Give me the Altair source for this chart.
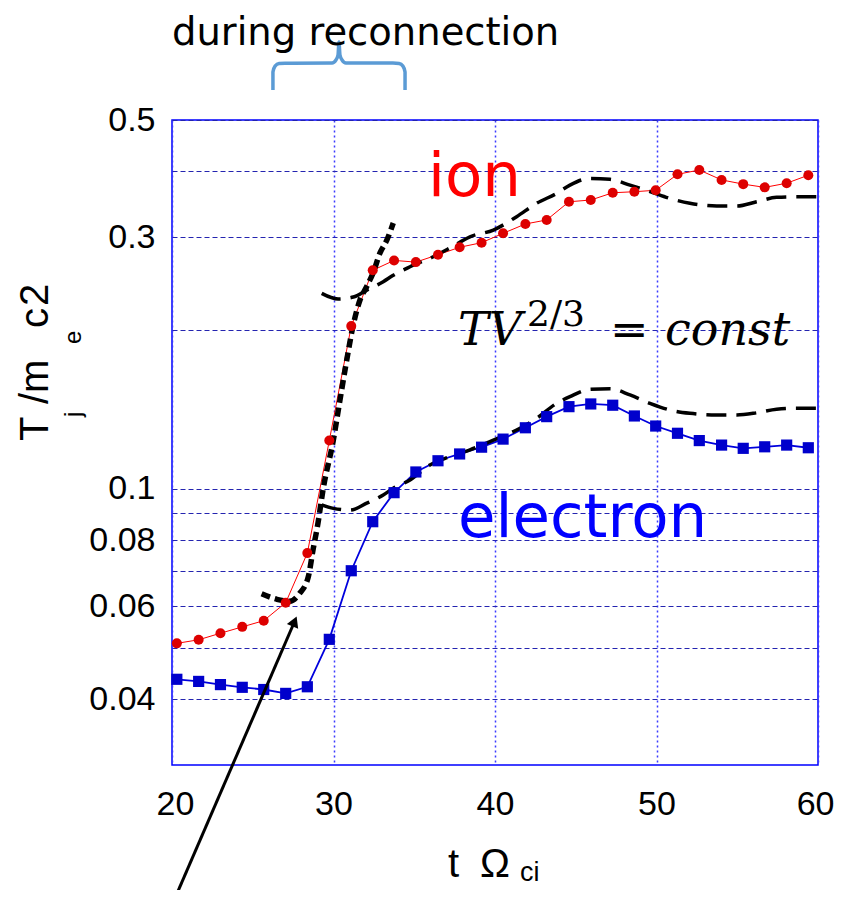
import altair as alt
import pandas as pd

# ---------------- data ----------------
t_obs = [20.3, 21.65, 23.0, 24.35, 25.68, 27.04, 28.38, 29.74, 31.1, 32.43,
         33.75, 35.1, 36.47, 37.81, 39.17, 40.5, 41.88, 43.2, 44.58, 45.93,
         47.29, 48.63, 49.95, 51.3, 52.65, 54.03, 55.37, 56.7, 58.06, 59.4]
T_ion = [0.0510, 0.0518, 0.0533, 0.0548, 0.0563, 0.0609, 0.0756, 0.1235, 0.2035, 0.2596,
         0.271, 0.269, 0.2778, 0.287, 0.2928, 0.305, 0.3177, 0.3233, 0.350, 0.3527,
         0.364, 0.3657, 0.368, 0.3945, 0.402, 0.385, 0.378, 0.3727, 0.3795, 0.393]
T_ele = [0.0436, 0.0432, 0.0426, 0.0421, 0.0417, 0.0410, 0.0422, 0.0519, 0.070, 0.0867,
         0.0984, 0.1077, 0.1131, 0.1165, 0.120, 0.1243, 0.1306, 0.1371, 0.1432, 0.1449,
         0.1441, 0.1375, 0.1316, 0.1275, 0.1235, 0.1211, 0.1194, 0.1202, 0.1211, 0.1197]

# adiabatic (TV^{2/3}=const) estimates
t_ad_ion1 = [25.55, 26.5, 27.3, 27.9, 28.44, 28.73, 29.04, 29.35, 29.99, 30.4,
             30.82, 31.2, 31.64, 32.05, 32.45, 32.88, 33.3, 33.7]
T_ad_ion1 = [0.0633, 0.0618, 0.0613, 0.0634, 0.0682, 0.0766, 0.0862, 0.0996, 0.1238, 0.1474,
             0.1755, 0.203, 0.228, 0.2416, 0.2565, 0.28, 0.296, 0.319]

t_ad_ion2 = [29.27, 30.28, 31.23, 32.06, 33.08, 33.7, 34.74, 36.18, 37.2, 38.45,
             39.9, 41.34, 42.58, 43.82, 44.64, 45.88, 47.12, 48.36, 49.6, 50.84,
             52.07, 53.73, 54.97, 56.2, 57.44, 58.68, 59.9]
T_ad_ion2 = [0.2347, 0.229, 0.231, 0.238, 0.247, 0.254, 0.2636, 0.2754, 0.286, 0.3004,
             0.3094, 0.328, 0.3477, 0.363, 0.3764, 0.3875, 0.386, 0.3764, 0.366, 0.355,
             0.3477, 0.3436, 0.3436, 0.350, 0.3568, 0.3577, 0.3577]

t_ad_ele = [29.27, 29.99, 31.02, 32.06, 33.08, 33.7, 34.74, 35.97, 37.2, 38.45,
            39.9, 41.34, 42.58, 43.82, 44.64, 45.88, 47.12, 48.36, 49.6, 50.84,
            52.07, 53.73, 54.97, 56.2, 57.44, 58.68, 59.9]
T_ad_ele = [0.0933, 0.0919, 0.0912, 0.0940, 0.0974, 0.1003, 0.104, 0.111, 0.1151, 0.1186,
            0.1238, 0.1293, 0.1361, 0.1453, 0.1496, 0.1545, 0.1549, 0.1507, 0.1453, 0.1411,
            0.1391, 0.1381, 0.1381, 0.1394, 0.1416, 0.1422, 0.1422]

# "during reconnection" brace (data units, above the plot)
brace_t = [26.25, 26.25, 26.38, 26.63, 27.0, 29.91, 30.15, 30.28, 30.34,
           30.40, 30.53, 30.77, 33.68, 34.06, 34.3, 34.43, 34.43]
brace_T = [0.5697, 0.6164, 0.6326, 0.6395, 0.6404, 0.641, 0.6494, 0.6637, 0.7025,
           0.6637, 0.6494, 0.641, 0.641, 0.6395, 0.6326, 0.6164, 0.5697]

# arrow pointing at the onset
arrow_t = [20.19, 27.59]
arrow_T = [0.0168, 0.0561]

x_ticks = [20, 30, 40, 50, 60]
y_grid = [0.04, 0.05, 0.06, 0.07, 0.08, 0.09, 0.1, 0.2, 0.3, 0.4, 0.5]
y_labels = [0.04, 0.06, 0.08, 0.1, 0.3, 0.5]

# ---------------- chart ----------------
obs = pd.DataFrame({"t": t_obs, "ion": T_ion, "ele": T_ele})
ad1 = pd.DataFrame({"t": t_ad_ion1, "T": T_ad_ion1})
ad2 = pd.DataFrame({"t": t_ad_ion2, "T": T_ad_ion2})
ad3 = pd.DataFrame({"t": t_ad_ele, "T": T_ad_ele})
brace = pd.DataFrame({"t": brace_t, "T": brace_T, "i": list(range(len(brace_t)))})
arrow = pd.DataFrame({"t": arrow_t, "T": arrow_T})
head = pd.DataFrame({"t": arrow_t[-1:], "T": arrow_T[-1:]})

xs = alt.Scale(domain=[20, 60], nice=False, zero=False)
ys = alt.Scale(type="log", domain=[0.03, 0.5], nice=False)

lab_list = ",".join(str(v) for v in y_labels)
x_axis = alt.Axis(values=x_ticks, title=None, grid=True, gridColor="#3b3bff",
                  gridDash=[2, 3], gridWidth=1.5, gridOpacity=1, domain=False,
                  ticks=False, labelPadding=22, labelFlush=True, labelFlushOffset=16,
                  labelFont="Liberation Sans", labelFontSize=34, labelColor="black")
y_axis = alt.Axis(values=y_grid, title=None, grid=True, gridColor="#2424b0",
                  gridDash=[5, 3], gridWidth=1, gridOpacity=1, domain=False,
                  ticks=False, labelPadding=17, labelFlush=False,
                  labelFont="Liberation Sans", labelFontSize=34, labelColor="black",
                  format="~g",
                  labelExpr=f"indexof([{lab_list}], datum.value) >= 0 ? datum.label : ''")


def X():
    return alt.X("t:Q", scale=xs, axis=x_axis)


def Yf(f):
    return alt.Y(f, scale=ys, axis=y_axis)


ion_line = alt.Chart(obs).mark_line(color="#ff0000", strokeWidth=1).encode(
    x=X(), y=Yf("ion:Q"))
ele_line = alt.Chart(obs).mark_line(color="#0000dd", strokeWidth=1.8).encode(
    x=X(), y=Yf("ele:Q"))

d1 = alt.Chart(ad1).mark_line(color="black", strokeWidth=5.5, strokeDash=[9, 5],
                              interpolate="monotone").encode(x=X(), y=Yf("T:Q"))
d2 = alt.Chart(ad2).mark_line(color="black", strokeWidth=3.5, strokeDash=[20, 10],
                              interpolate="monotone").encode(x=X(), y=Yf("T:Q"))
d3 = alt.Chart(ad3).mark_line(color="black", strokeWidth=3.5, strokeDash=[20, 10],
                              interpolate="monotone").encode(x=X(), y=Yf("T:Q"))

ion_pts = alt.Chart(obs).mark_point(shape="circle", filled=True, size=100,
                                    color="#dd0000", opacity=1).encode(x=X(), y=Yf("ion:Q"))
ele_pts = alt.Chart(obs).mark_point(shape="square", filled=True, size=125,
                                    color="#0000cc", opacity=1).encode(x=X(), y=Yf("ele:Q"))

brace_line = alt.Chart(brace).mark_line(color="#5b9bd5", strokeWidth=3.5,
                                        interpolate="monotone").encode(
    x=X(), y=Yf("T:Q"), order="i:Q")
arrow_line = alt.Chart(arrow).mark_line(color="black", strokeWidth=3).encode(
    x=X(), y=Yf("T:Q"))
arrow_head = alt.Chart(head).mark_point(shape="triangle-up", filled=True, size=150,
                                        color="black", opacity=1).encode(
    x=X(), y=Yf("T:Q"), angle=alt.value(23))


def txt(s, x, y, size, color="black", font="Liberation Sans", style="normal",
        angle=0):
    return alt.Chart(pd.DataFrame({"s": [s]})).mark_text(
        text=s, fontSize=size, font=font, fontStyle=style, color=color,
        align="left", baseline="alphabetic").encode(
        x=alt.value(x), y=alt.value(y), angle=alt.value(angle))


texts = [
    txt("during reconnection", 0, -75, 38.5, font="DejaVu Sans"),
    txt("ion", 256, 76, 61, color="#ff0000", font="DejaVu Sans"),
    txt("electron", 286, 417, 61, color="#0000ff", font="DejaVu Sans"),
    txt("TV", 286, 225, 46, font="DejaVu Serif", style="italic"),
    txt("2/3", 355, 206, 36, font="DejaVu Serif"),
    txt("=", 438, 225, 46, font="DejaVu Serif"),
    txt("const", 493, 225, 46, font="DejaVu Serif", style="italic"),
    # x title: t Omega_ci
    txt("t", 276, 757, 40),
    txt("Ω", 308, 757, 40),
    txt("ci", 348, 761, 27),
    # y title: T_j / m_e c^2 (rotated, reading upwards)
    txt("T", -124, 321, 40, angle=270),
    txt("j", -91, 297, 24, angle=270),
    txt("/m", -124, 284, 40, angle=270),
    txt("e", -91, 224, 24, angle=270),
    txt("c", -124, 208, 40, angle=270),
    txt("2", -124, 186, 40, angle=270),
]

chart = alt.layer(
    ion_line, ele_line, d1, d2, d3, ion_pts, ele_pts,
    brace_line, arrow_line, arrow_head, *texts
).properties(
    width=646, height=645,
    autosize=alt.AutoSizeParams(type="none"),
    padding={"left": 164, "top": 112, "right": 17, "bottom": 125},
).configure_view(
    stroke="#0000ff", strokeWidth=1.5
)

chart.save("out.html", embed_options={"renderer": "svg", "actions": False})
